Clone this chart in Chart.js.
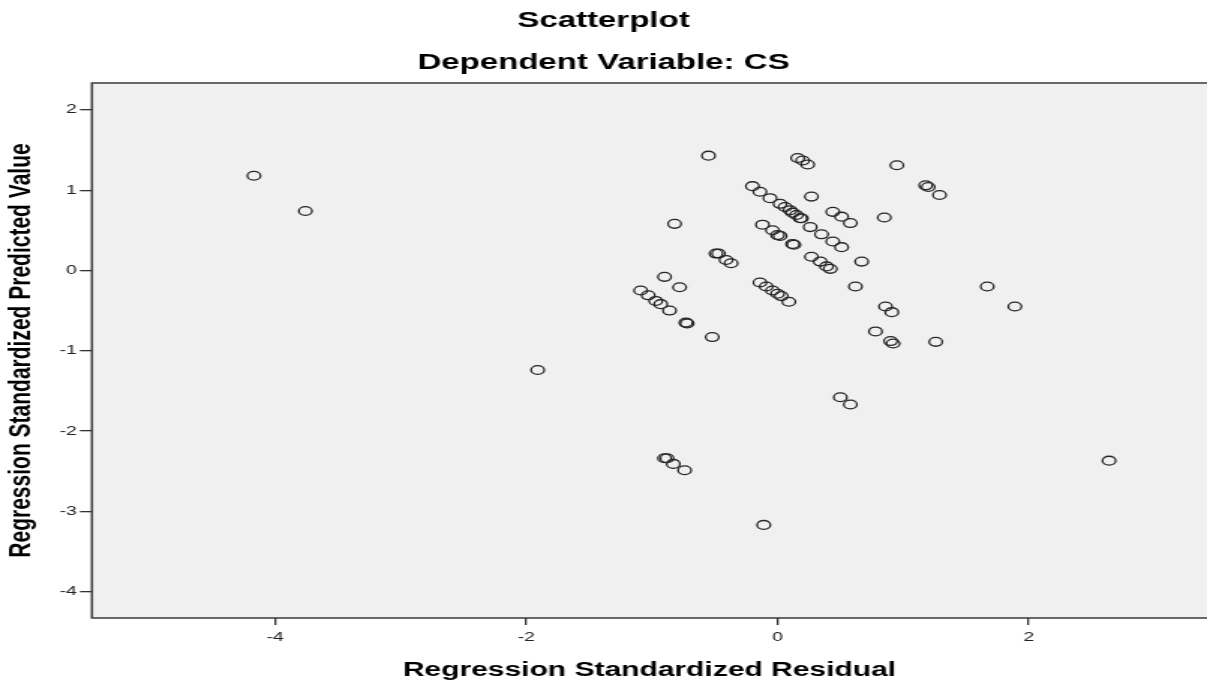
<!DOCTYPE html>
<html>
<head>
<meta charset="utf-8">
<script src="https://cdn.jsdelivr.net/npm/chart.js@4.4.1/dist/chart.umd.min.js"></script>
<style>
    html, body { margin: 0; padding: 0; background: #ffffff; overflow: hidden; }
</style>
</head>
<body>
<!-- the original output is stretched sideways, so the canvas is drawn narrow and widened -->
<canvas id="scatter" width="805" height="684" style="display:block;width:1207px;height:684px;"></canvas>
<script>
// Regression standardized residual (x) and predicted value (y)
const residuals = [
    -4.17, -3.76, -1.91, -0.55, -0.82,
    0.16, 0.20, 0.24, 0.27, 0.95, 1.18, 1.20, 1.29,
    -0.20, -0.14, -0.06, 0.02, 0.06, 0.10, 0.12, 0.15, 0.18, 0.19, 0.26, 0.35, 0.44, 0.51,
    0.44, 0.51, 0.58, 0.85,
    -0.12, -0.04, 0.00, 0.02, 0.12, 0.13,
    -0.49, -0.47, -0.41, -0.37,
    0.27, 0.34, 0.39, 0.42, 0.67,
    -0.90, -0.78, -1.09, -1.03, -0.97, -0.93, -0.86,
    -0.14, -0.09, -0.04, 0.00, 0.03, 0.09, 0.62,
    1.67, 1.89, 0.86, 0.91, 0.78, 0.90, 0.92, 1.26,
    -0.73, -0.72, -0.52,
    0.50, 0.58,
    -0.90, -0.88, -0.83, -0.74,
    -0.11, 2.64
];
const predicted = [
    1.18, 0.74, -1.24, 1.43, 0.58,
    1.40, 1.37, 1.32, 0.92, 1.31, 1.06, 1.04, 0.94,
    1.05, 0.98, 0.90, 0.83, 0.79, 0.75, 0.72, 0.69, 0.65, 0.65, 0.54, 0.45, 0.36, 0.29,
    0.73, 0.67, 0.59, 0.66,
    0.57, 0.50, 0.44, 0.43, 0.33, 0.32,
    0.21, 0.21, 0.13, 0.09,
    0.17, 0.11, 0.05, 0.02, 0.11,
    -0.08, -0.21, -0.25, -0.31, -0.38, -0.42, -0.50,
    -0.15, -0.20, -0.25, -0.29, -0.32, -0.39, -0.20,
    -0.20, -0.45, -0.45, -0.52, -0.76, -0.88, -0.91, -0.89,
    -0.65, -0.66, -0.83,
    -1.58, -1.67,
    -2.34, -2.34, -2.41, -2.49,
    -3.17, -2.37
];
const xTicks = [-4, -2, 0, 2];
const yTicks = [2, 1, 0, -1, -2, -3, -4];

const FONT = "'Liberation Sans', Arial, sans-serif";

// grey plot background and the frame lines (right side runs off the picture)
const plotFrame = {
    id: 'plotFrame',
    beforeDatasetsDraw(chart) {
        const { ctx, chartArea: a } = chart;
        ctx.save();
        ctx.fillStyle = '#f0f0f0';
        ctx.fillRect(a.left, a.top, a.right - a.left, a.bottom - a.top);
        ctx.restore();
    },
    afterDraw(chart) {
        const { ctx, chartArea: a } = chart;
        ctx.save();
        ctx.strokeStyle = '#3a3a3a';
        ctx.lineWidth = 1.5;
        ctx.beginPath();
        ctx.moveTo(a.right, a.top);
        ctx.lineTo(a.left, a.top);
        ctx.lineTo(a.left, a.bottom);
        ctx.lineTo(a.right, a.bottom);
        ctx.stroke();
        ctx.restore();
    }
};

const points = residuals.map((x, i) => ({ x: x, y: predicted[i] }));

new Chart(document.getElementById('scatter'), {
    type: 'scatter',
    data: {
        datasets: [{
            data: points,
            pointStyle: 'circle',
            pointRadius: 4.4,
            pointHoverRadius: 4.4,
            pointBorderWidth: 1.3,
            pointBorderColor: '#262626',
            pointBackgroundColor: 'rgba(0,0,0,0)'
        }]
    },
    options: {
        responsive: false,
        animation: false,
        events: [],
        layout: { padding: 0, autoPadding: false },
        plugins: {
            legend: { display: false },
            tooltip: { enabled: false },
            title: {
                display: true,
                text: 'Scatterplot',
                color: '#000',
                font: { family: FONT, size: 22, weight: 'bold' },
                padding: { top: 7.8, bottom: 8 }
            },
            subtitle: {
                display: true,
                text: 'Dependent Variable: CS',
                color: '#000',
                font: { family: FONT, size: 22, weight: 'bold' },
                padding: { top: 7.6, bottom: 6.8 }
            }
        },
        scales: {
            x: {
                type: 'linear',
                min: -5.46,
                max: 3.42,
                afterBuildTicks: s => { s.ticks = xTicks.map(v => ({ value: v })); },
                afterFit: s => { s.height = 66; },
                border: { display: false },
                grid: { drawOnChartArea: false, drawTicks: true, tickLength: 7, color: '#333', lineWidth: 1.3 },
                ticks: { padding: 5, color: '#222', font: { family: FONT, size: 13 } },
                title: {
                    display: true,
                    text: 'Regression Standardized Residual',
                    color: '#000',
                    font: { family: FONT, size: 20, weight: 'bold' },
                    padding: { top: 0, bottom: 2 }
                }
            },
            y: {
                type: 'linear',
                min: -4.33,
                max: 2.335,
                afterBuildTicks: s => { s.ticks = yTicks.map(v => ({ value: v })); },
                afterFit: s => { s.width = 61.3; },
                border: { display: false },
                grid: { drawOnChartArea: false, drawTicks: true, tickLength: 8, color: '#333', lineWidth: 1.3 },
                ticks: { padding: 2, color: '#222', font: { family: FONT, size: 13 } },
                title: {
                    display: true,
                    text: 'Regression Standardized Predicted Value',
                    color: '#000',
                    font: { family: FONT, size: 21, weight: 'bold' },
                    padding: { top: 1.5, bottom: 0 }
                }
            }
        }
    },
    plugins: [plotFrame]
});
</script>
</body>
</html>
